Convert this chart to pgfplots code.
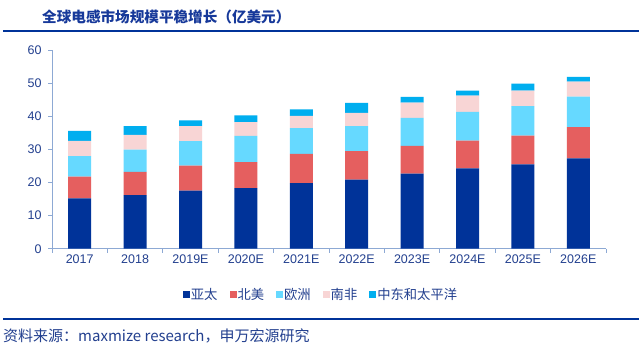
\documentclass[border=0pt]{standalone}
\usepackage{pgfplots}
\pgfplotsset{compat=1.18}
\usepackage{pgfplotstable}
\usepackage{fontspec}
\setmainfont{Liberation Sans}
\newfontfamily\cjk{Noto Sans CJK SC}
\definecolor{c1}{HTML}{003399}
\definecolor{c2}{HTML}{E55F5F}
\definecolor{c3}{HTML}{66D9FF}
\definecolor{c4}{HTML}{F8D5D5}
\definecolor{c5}{HTML}{00AEEF}
\definecolor{titlecol}{HTML}{17399A}
\definecolor{labcol}{HTML}{23408F}
\definecolor{axiscol}{HTML}{8DA9D4}
\definecolor{rulecol}{HTML}{003399}

\pgfplotstableread{
x a b c d e
0 15.2 6.6 6.2 4.6 3.0
1 16.2 7.0 6.8 4.4 2.7
2 17.6 7.5 7.4 4.6 1.7
3 18.3 7.9 7.9 4.2 2.0
4 19.8 8.9 7.8 3.7 1.9
5 20.9 8.6 7.6 4.0 3.0
6 22.7 8.4 8.5 4.6 1.7
7 24.3 8.4 8.7 4.9 1.5
8 25.5 8.7 8.9 4.7 2.1
9 27.3 9.5 9.2 4.5 1.5
}\data

\begin{document}
\begin{tikzpicture}
\path[use as bounding box,fill=white] (0pt,0pt) rectangle (639pt,351pt);
\draw[rulecol,line width=2pt] (3pt,320pt) -- (639pt,320pt);
\node[anchor=west,inner sep=0pt,font=\cjk\bfseries\fontsize{14.6}{14.6}\selectfont,text=titlecol] at (42pt,334pt) {全球电感市场规模平稳增长（亿美元）};
\draw[rulecol,line width=2pt] (3pt,32pt) -- (639pt,32pt);
\node[anchor=west,inner sep=0pt,font=\cjk\fontsize{15}{15}\selectfont,text=labcol] at (3pt,15pt) {资料来源：maxmize research，申万宏源研究};
\begin{axis}[
  at={(52pt,102.3pt)}, anchor=south west,
  scale only axis, width=554pt, height=198.4pt,
  ybar stacked, bar width=23pt,
  ymin=0, ymax=60, xmin=-0.5, xmax=9.5,
  ytick={0,10,...,60},
  xtick={-0.5,0.5,...,9.5}, xticklabels={},
  extra x ticks={0,1,...,9},
  extra x tick labels={2017,2018,2019E,2020E,2021E,2022E,2023E,2024E,2025E,2026E},
  extra x tick style={major tick length=0pt},
  axis x line*=bottom, axis y line*=left,
  axis line style={axiscol,line width=1pt},
  tick style={axiscol,line width=1pt},
  tick align=outside, major tick length=4pt,
  ticklabel style={font=\fontsize{12.5}{12.5}\selectfont,text=labcol},
  yticklabel style={xshift=-3pt},
  xticklabel style={yshift=-3pt},
  /pgf/number format/assume math mode=true,
  legend columns=-1,
  legend style={at={(0.4847,-0.233)}, anchor=center, draw=none, fill=none,
    font=\cjk\fontsize{13.3}{13.3}\selectfont, text=labcol,
    /tikz/every even column/.append style={column sep=11pt},
    nodes={inner sep=1pt}},
  legend image code/.code={\fill[#1] (0pt,-3.5pt) rectangle (7pt,3.5pt);},
]
\addplot[fill=c1,draw=none] table[x=x,y=a]{\data};
\addplot[fill=c2,draw=none] table[x=x,y=b]{\data};
\addplot[fill=c3,draw=none] table[x=x,y=c]{\data};
\addplot[fill=c4,draw=none] table[x=x,y=d]{\data};
\addplot[fill=c5,draw=none] table[x=x,y=e]{\data};
\legend{亚太,北美,欧洲,南非,中东和太平洋}
\end{axis}
\end{tikzpicture}
\end{document}
